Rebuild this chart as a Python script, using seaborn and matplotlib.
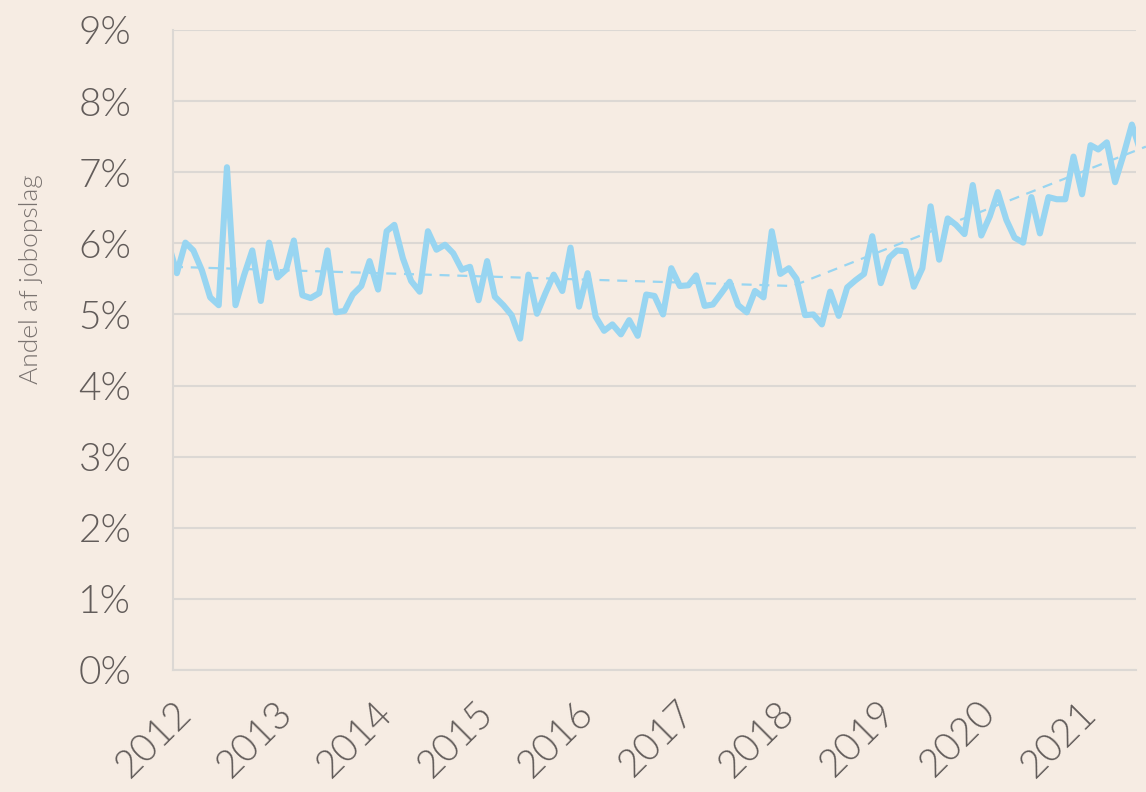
import pandas as pd
import numpy as np
import matplotlib
matplotlib.use("Agg")
import matplotlib.pyplot as plt
import matplotlib.dates as mdates
import seaborn as sns

# monthly share of job postings (%), Dec 2011 - Aug 2021
share = [6.00,
         5.58, 6.01, 5.90, 5.62, 5.24, 5.13, 7.07, 5.13, 5.55, 5.90, 5.19, 6.01,
         5.52, 5.63, 6.04, 5.27, 5.23, 5.30, 5.90, 5.03, 5.05, 5.28, 5.40, 5.75,
         5.35, 6.17, 6.26, 5.79, 5.47, 5.32, 6.17, 5.91, 5.98, 5.86, 5.63, 5.67,
         5.20, 5.75, 5.25, 5.13, 4.99, 4.66, 5.56, 5.01, 5.30, 5.56, 5.33, 5.94,
         5.11, 5.58, 4.97, 4.77, 4.86, 4.72, 4.92, 4.70, 5.28, 5.26, 5.00, 5.65,
         5.40, 5.41, 5.55, 5.12, 5.14, 5.30, 5.46, 5.13, 5.03, 5.33, 5.24, 6.17,
         5.57, 5.65, 5.50, 4.99, 5.00, 4.86, 5.32, 4.98, 5.38, 5.48, 5.57, 6.10,
         5.44, 5.80, 5.90, 5.89, 5.39, 5.65, 6.52, 5.77, 6.35, 6.26, 6.13, 6.82,
         6.11, 6.38, 6.72, 6.33, 6.08, 6.01, 6.65, 6.14, 6.65, 6.62, 6.62, 7.22,
         6.69, 7.38, 7.32, 7.42, 6.86, 7.25, 7.67, 7.30]
months = pd.date_range("2011-12-01", periods=len(share), freq="MS") + pd.Timedelta(days=14)

# piecewise trend
trend_dates = pd.to_datetime(["2012-01-01", "2018-03-01", "2021-09-04"])
trend_vals = [5.67, 5.40, 7.36]

years = list(range(2012, 2022))
yticks = list(range(0, 10))

df = pd.DataFrame({"month": months, "share": share})
tr = pd.DataFrame({"month": trend_dates, "share": trend_vals})

bg = "#f6ece3"
blue = "#98d5f1"
grid = "#dcd8d4"
txt = "#625c5a"

sns.set_style("white")
plt.rcParams["font.family"] = ["Lato", "DejaVu Sans"]

fig = plt.figure(figsize=(11.46, 7.92), dpi=100, facecolor=bg)
ax = fig.add_axes([173/1146, 1 - 670/792, (1136 - 173)/1146, 640/792])
ax.set_facecolor(bg)

sns.lineplot(data=df, x="month", y="share", color=blue, linewidth=4.4, ax=ax)
sns.lineplot(data=tr, x="month", y="share", color=blue, linewidth=1.6,
             linestyle=(0, (4.5, 3.5)), ax=ax)
ax.lines[-1].set_clip_on(False)

ax.set_xlim(pd.Timestamp("2012-01-01"), pd.Timestamp("2021-07-30"))
ax.set_ylim(0, 9)
ax.set_yticks(yticks)
ax.set_yticklabels([f"{v}%" for v in yticks])
ax.set_xticks([pd.Timestamp(f"{y}-01-01") for y in years])
ax.xaxis.set_major_formatter(mdates.DateFormatter("%Y"))

ax.grid(axis="y", color=grid, linewidth=1.5)
ax.set_axisbelow(True)
for s in ["top", "right"]:
    ax.spines[s].set_visible(False)
ax.spines["left"].set_color(grid)
ax.spines["left"].set_linewidth(1.5)
ax.spines["bottom"].set_color(grid)
ax.spines["bottom"].set_linewidth(1.5)

ax.tick_params(axis="y", length=10, width=1.5, color=grid, pad=20,
               labelsize=28, labelcolor=txt)
ax.tick_params(axis="x", length=9.5, width=1.5, color=grid, pad=8,
               labelsize=28, labelcolor=txt)
for lab in ax.get_yticklabels() + ax.get_xticklabels():
    lab.set_fontweight(300)
for lab in ax.get_xticklabels():
    lab.set_rotation(45)
    lab.set_ha("right")
    lab.set_va("top")
    lab.set_rotation_mode("anchor")

ax.set_xlabel("")
ax.set_ylabel("Andel af jobopslag", fontsize=19, color="#7a7370", fontweight=300)
ax.yaxis.set_label_coords(-0.135, 0.61)

fig.savefig("out.png", dpi=100, facecolor=bg)
